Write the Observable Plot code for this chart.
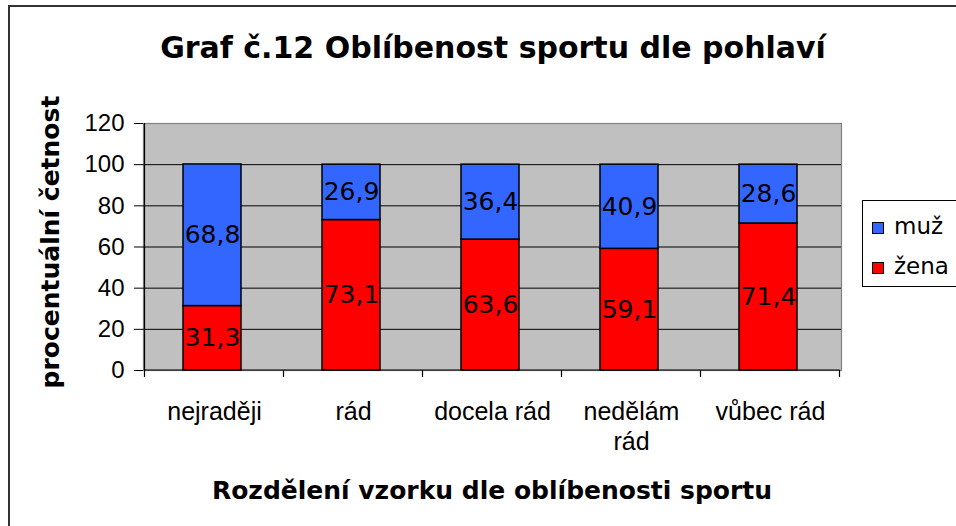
<!DOCTYPE html>
<html>
<head>
<meta charset="utf-8">
<script src="https://cdn.jsdelivr.net/npm/d3@7"></script>
<script src="https://cdn.jsdelivr.net/npm/@observablehq/plot@0.6"></script>
<style>
  html, body { margin: 0; padding: 0; background: #fff; }
  #wrap { position: relative; width: 956px; height: 526px; overflow: hidden; background: #fff; }
  #border { position: absolute; left: 8px; top: 5px; width: 990px; height: 560px; border: 2px solid #333; box-sizing: border-box; }
  #chart { position: absolute; left: 0; top: 0; }
  .t { position: absolute; white-space: nowrap; font-family: "DejaVu Sans", Verdana, sans-serif; color: #000; }
  #title { left: 493px; top: 33px; transform: translateX(-50%); font-size: 30px; line-height: 30px; font-weight: bold; }
  #ylab { left: 50px; top: 242px; transform: translate(-50%, -50%) rotate(-90deg); font-size: 25px; line-height: 25px; font-weight: bold; }
  #xlab { left: 492px; top: 478px; transform: translateX(-50%); font-size: 25px; line-height: 25px; font-weight: bold; }
  #legend { position: absolute; left: 862px; top: 200px; width: 120px; height: 87px; border: 1px solid #000; box-sizing: border-box; background: #fff; }
  .li { position: absolute; left: 9px; height: 24px; font-family: "DejaVu Sans", Verdana, sans-serif; font-size: 23px; line-height: 24px; white-space: nowrap; }
  .sw { display: inline-block; width: 12px; height: 12px; border: 1px solid #000; box-sizing: border-box; margin-right: 10px; vertical-align: 0px; }
</style>
</head>
<body>
<div id="wrap">
  <div id="border"></div>
  <div id="chart"></div>
  <div id="title" class="t"></div>
  <div id="ylab" class="t"></div>
  <div id="xlab" class="t"></div>
  <div id="legend"></div>
</div>
<script>
// ---- data ----
const title = "Graf č.12 Oblíbenost sportu dle pohlaví";
const yTitle = "procentuální četnost";
const xTitle = "Rozdělení vzorku dle oblíbenosti sportu";
const categories = ["nejraději", "rád", "docela rád", "nedělám rád", "vůbec rád"];
const tickLabels = ["nejraději", "rád", "docela rád", "nedělám\nrád", "vůbec rád"];
const seriesNames = ["muž", "žena"];
const seriesColors = ["#3366FF", "#FF0000"];
const muz  = [68.8, 26.9, 36.4, 40.9, 28.6];
const zena = [31.3, 73.1, 63.6, 59.1, 71.4];
const yTicks = [0, 20, 40, 60, 80, 100, 120];

// ---- table built from arrays ----
const rows = [];
categories.forEach((c, i) => {
  rows.push({cat: c, sex: "žena", value: zena[i]});
  rows.push({cat: c, sex: "muž", value: muz[i]});
});
const fmt = v => d3.format(".1f")(v).replace(".", ",");

// custom mark: left axis line + category boundary ticks
function axisLines(index, scales, values, dimensions) {
  const x = scales.x, y = scales.y;
  const step = x.step ? x.step() : (dimensions.width - dimensions.marginLeft - dimensions.marginRight) / categories.length;
  const bw = x.bandwidth ? x.bandwidth() : 0;
  const y0 = y(0), yTop = y(d3.max(yTicks));
  const g = d3.create("svg:g").attr("stroke", "#000").attr("stroke-width", 1.2);
  const edges = categories.map(c => x(c) - (step - bw) / 2);
  edges.push(edges[edges.length - 1] + step);
  g.append("line").attr("x1", edges[0]).attr("x2", edges[0]).attr("y1", yTop).attr("y2", y0);
  g.append("line").attr("x1", edges[0]).attr("x2", edges[edges.length - 1]).attr("y1", y0).attr("y2", y0);
  edges.forEach(e => g.append("line").attr("x1", e).attr("x2", e).attr("y1", y0).attr("y2", y0 + 7));
  return g.node();
}

const chart = Plot.plot({
  width: 956,
  height: 526,
  marginLeft: 143,
  marginRight: 115,
  marginTop: 123,
  marginBottom: 156,
  style: {background: "transparent", overflow: "visible"},
  x: {domain: categories, paddingInner: 0.58, paddingOuter: 0.29, axis: null},
  y: {domain: [0, 120], axis: null},
  color: {domain: seriesNames, range: seriesColors},
  marks: [
    Plot.frame({fill: "#C0C0C0", stroke: "#808080", strokeWidth: 1.2}),
    Plot.ruleY(yTicks.filter(t => t > 0 && t < d3.max(yTicks)), {stroke: "#000", strokeWidth: 1}),
    Plot.barY(rows, Plot.stackY({x: "cat", y: "value", fill: "sex", order: ["žena", "muž"], stroke: "#000", strokeWidth: 1.5, dx: -2})),
    Plot.text(rows, Plot.stackY({x: "cat", y: "value", z: "sex", order: ["žena", "muž"], text: d => fmt(d.value),
      fontSize: 25, fontFamily: "DejaVu Sans, Verdana, sans-serif", fill: "#000", dx: -2})),
    Plot.axisY({ticks: yTicks, tickSize: 9, tickPadding: 10, label: null, fontSize: 24,
      fontFamily: "Liberation Sans, Arial, sans-serif", stroke: "#000"}),
    Plot.text(categories, {x: d => d, text: (d, i) => tickLabels[i], frameAnchor: "bottom", dy: 28,
      lineAnchor: "top", lineHeight: 1.2, fontSize: 25, fontFamily: "Liberation Sans, Arial, sans-serif", fill: "#000"}),
    axisLines
  ]
});
document.getElementById("chart").appendChild(chart);

document.getElementById("title").textContent = title;
document.getElementById("ylab").textContent = yTitle;
document.getElementById("xlab").textContent = xTitle;

const legend = document.getElementById("legend");
seriesNames.forEach((name, i) => {
  const item = document.createElement("div");
  item.className = "li";
  item.style.top = (13 + i * 40) + "px";
  const sw = document.createElement("span");
  sw.className = "sw";
  sw.style.background = seriesColors[i];
  item.appendChild(sw);
  item.appendChild(document.createTextNode(name));
  legend.appendChild(item);
});
</script>
</body>
</html>
